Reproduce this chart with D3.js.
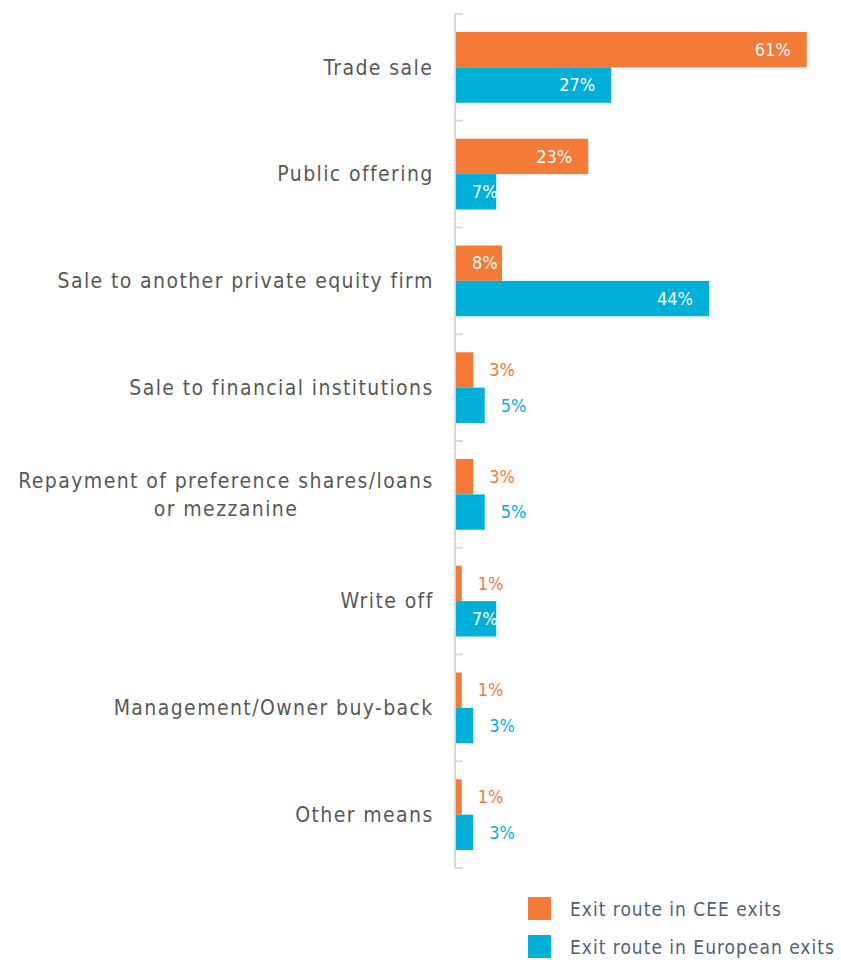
<!DOCTYPE html>
<html>
<head>
<meta charset="utf-8">
<script src="https://cdn.jsdelivr.net/npm/d3@7"></script>
<style>
  html, body { margin: 0; padding: 0; background: #fff; }
  svg { display: block; }
</style>
</head>
<body>
<svg id="chart" width="841" height="960"></svg>
<script>
// Exit routes: share of exits by route, CEE vs Europe
const categories = [
  ["Trade sale"],
  ["Public offering"],
  ["Sale to another private equity firm"],
  ["Sale to financial institutions"],
  ["Repayment of preference shares/loans", "or mezzanine"],
  ["Write off"],
  ["Management/Owner buy-back"],
  ["Other means"]
];
const ceeValues = [61, 23, 8, 3, 3, 1, 1, 1];
const europeValues = [27, 7, 44, 5, 5, 7, 3, 3];
const seriesNames = ["Exit route in CEE exits", "Exit route in European exits"];
const seriesColors = ["#f47a38", "#00b0d8"];

const svg = d3.select("#chart");
const fontLabel = "'DejaVu Sans Condensed', 'DejaVu Sans', sans-serif";

const y = d3.scaleBand()
  .domain(d3.range(categories.length))
  .range([14, 868])
  .padding(0);

const sub = d3.scaleBand()
  .domain([0, 1])
  .range([18, y.bandwidth() - 18])
  .padding(0);

const x = d3.scaleLinear().domain([0, 100]).range([456, 1031]);

// Axis line and boundary ticks
const axisG = svg.append("g");
axisG.append("line")
  .attr("x1", 455).attr("x2", 455)
  .attr("y1", y.range()[0]).attr("y2", y.range()[1])
  .attr("stroke", "#d9d9d9").attr("stroke-width", 2);
const bounds = d3.range(categories.length + 1).map(i => y.range()[0] + i * y.step());
axisG.selectAll("line.tick").data(bounds).join("line")
  .attr("class", "tick")
  .attr("x1", 455).attr("x2", 463)
  .attr("y1", d => d).attr("y2", d => d)
  .attr("stroke", "#d9d9d9").attr("stroke-width", 2);

// Category labels: each line right-aligned block, lines centred within it
const catG = svg.append("g");
const catSpacing = 1.4;
categories.forEach((lines, i) => {
  const cy = y(i) + y.bandwidth() / 2;
  const lh = 28;
  const t = catG.append("text")
    .attr("text-anchor", "middle")
    .attr("font-family", fontLabel)
    .attr("font-size", 21)
    .attr("letter-spacing", catSpacing)
    .attr("fill", "#595959");
  lines.forEach((ln, j) => {
    t.append("tspan")
      .attr("x", 0)
      .attr("y", cy + (j - (lines.length - 1) / 2) * lh)
      .attr("dy", "0.35em")
      .text(ln);
  });
  const w = t.node().getBBox().width - catSpacing;
  t.attr("transform", `translate(${433 - w / 2},0)`);
});

// Bars with value labels
const rows = categories.map((c, i) => [ceeValues[i], europeValues[i]]);
const barG = svg.append("g");
rows.forEach((vals, i) => {
  vals.forEach((v, s) => {
    const by = y(i) + sub(s);
    const bh = sub.bandwidth();
    barG.append("rect")
      .attr("x", x(0))
      .attr("y", by)
      .attr("width", x(v) - x(0))
      .attr("height", bh)
      .attr("fill", seriesColors[s]);

    const inside = v >= 7;
    const lbl = barG.append("text")
      .attr("y", by + bh / 2)
      .attr("dy", "0.35em")
      .attr("font-family", fontLabel)
      .attr("font-size", 18)
      .attr("fill", inside ? "#ffffff" : seriesColors[s])
      .text(v + "%");
    const tw = lbl.node().getComputedTextLength();
    if (inside) {
      lbl.attr("x", Math.max(x(v) - 16 - tw, x(0) + 16));
    } else {
      lbl.attr("x", x(v) + 16);
    }
  });
});

// Legend
const legG = svg.append("g");
seriesNames.forEach((name, s) => {
  const ly = 897 + s * 38;
  legG.append("rect")
    .attr("x", 528).attr("y", ly)
    .attr("width", 23).attr("height", 23)
    .attr("fill", seriesColors[s]);
  legG.append("text")
    .attr("x", 570).attr("y", ly + 12.5)
    .attr("dy", "0.35em")
    .attr("font-family", fontLabel)
    .attr("font-size", 19)
    .attr("letter-spacing", 1)
    .attr("fill", "#526272")
    .text(name);
});
</script>
</body>
</html>
